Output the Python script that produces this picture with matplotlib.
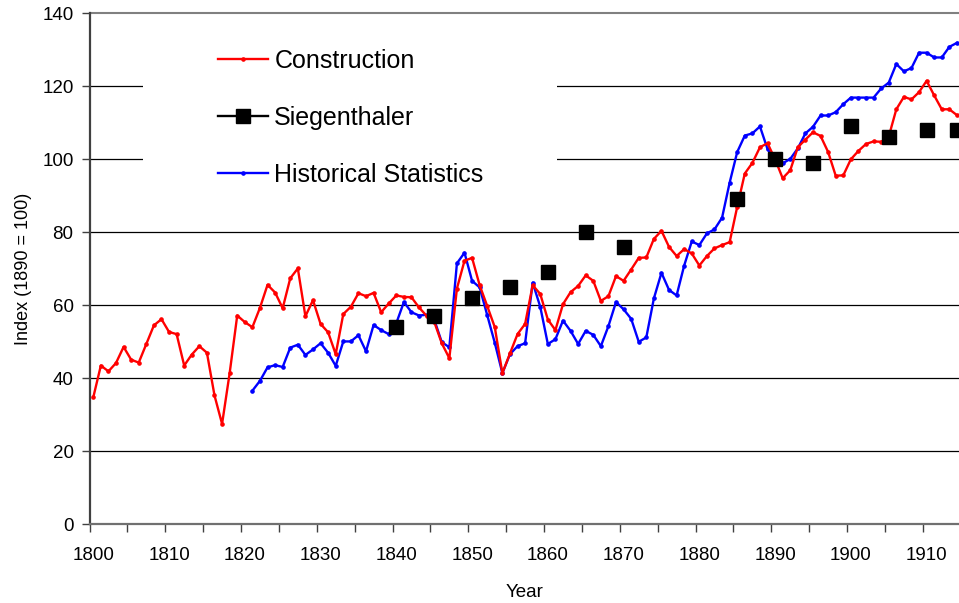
import matplotlib
matplotlib.use("Agg")
import matplotlib.pyplot as plt
from matplotlib.lines import Line2D
from matplotlib.patches import Rectangle
import numpy as np

plt.rcParams['font.family'] = ['Liberation Sans', 'DejaVu Sans']

construction_years = list(range(1800, 1915))
construction = [
    34.8, 43.5, 41.9, 44.2, 48.6, 45.1, 44.3, 49.4, 54.5, 56.2,
    52.7, 52.1, 43.5, 46.5, 48.8, 47.0, 35.3, 27.5, 41.4, 57.2,
    55.4, 54.0, 59.3, 65.6, 63.5, 59.2, 67.4, 70.1, 57.0, 61.4,
    54.9, 52.6, 46.6, 57.6, 59.6, 63.3, 62.5, 63.4, 58.1, 60.5,
    62.7, 62.3, 62.2, 59.4, 57.1, 55.5, 49.6, 45.5, 64.6, 72.2,
    73.0, 65.5, 59.8, 54.0, 41.4, 46.8, 52.1, 54.9, 65.5, 63.1,
    56.1, 53.2, 60.3, 63.6, 65.3, 68.2, 66.7, 61.2, 62.5, 68.0,
    66.7, 69.8, 73.0, 73.1, 78.2, 80.4, 76.0, 73.5, 75.4, 74.2,
    70.9, 73.5, 75.6, 76.5, 77.3, 87.0, 96.1, 99.0, 103.3, 104.4,
    100.0, 94.8, 97.0, 103.3, 105.4, 107.4, 106.4, 102.0, 95.5, 95.6,
    100.0, 102.3, 104.2, 104.9, 104.8, 106.2, 113.7, 117.1, 116.4, 118.4,
    121.5, 117.5, 113.7, 113.7, 112.1,
]

hist_years = list(range(1821, 1915))
hist_stats = [
    36.6, 39.3, 43.0, 43.6, 43.1, 48.4, 49.2, 46.4, 47.9,
    49.6, 47.0, 43.4, 50.1, 50.1, 51.8, 47.4, 54.6, 53.2, 52.1,
    55.1, 60.9, 58.1, 57.2, 57.4, 56.1, 49.9, 48.5, 71.5, 74.4,
    66.7, 64.9, 57.3, 49.7, 41.4, 46.6, 48.8, 49.6, 66.2, 59.6,
    49.4, 50.7, 55.8, 53.0, 49.4, 53.0, 51.9, 48.8, 54.3, 60.9,
    58.9, 56.3, 50.0, 51.2, 61.9, 68.9, 64.2, 62.7, 70.9, 77.5,
    76.5, 79.7, 80.8, 84.0, 93.6, 102.0, 106.5, 107.1, 109.0, 102.8,
    100.0, 98.9, 100.1, 103.0, 107.1, 108.9, 112.0, 112.0, 112.9, 115.1,
    116.9, 116.9, 116.9, 116.9, 119.4, 121.0, 126.1, 124.1, 125.0, 129.2,
    129.2, 127.9, 127.9, 130.8, 131.9,
]

sieg_years = [1840, 1845, 1850, 1855, 1860, 1865, 1870, 1885, 1890, 1895, 1900, 1905, 1910, 1914]
sieg = [54, 57, 62, 65, 69, 80, 76, 89, 100, 99, 109, 106, 108, 108]

label_years = list(range(1800, 1911, 10))
y_ticks = list(range(0, 141, 20))

W, H = 959, 603
fig = plt.figure(figsize=(W / 100, H / 100), dpi=100)
left, right, top, bottom = 89.5, 959, 13.3, 524.3
ax = fig.add_axes([left / W, 1 - bottom / H, (right - left) / W, (bottom - top) / H])

x_lo = 1799.5
x_hi = x_lo + (right - left) / 7.5757
ax.set_xlim(x_lo, x_hi)
ax.set_ylim(0, 140)

# gridlines
for v in y_ticks[1:-1]:
    ax.axhline(v, color='black', lw=0.9, zorder=1)
ax.axhline(140, color='#808080', lw=1.5, zorder=1, clip_on=False)

# legend background
ax.add_patch(Rectangle((143, H - 205), 557 - 143, 175, transform=None,
                       facecolor='white', edgecolor='none', zorder=2))

ax.plot(construction_years, construction, color='#ff0000', lw=1.7,
        marker='o', ms=2.3, zorder=4, clip_on=False)
ax.plot(hist_years, hist_stats, color='#0000ff', lw=1.7,
        marker='o', ms=2.3, zorder=3, clip_on=False)
ax.plot(sieg_years, sieg, linestyle='none', marker='s', ms=10, color='black',
        zorder=5)

# spines
for s in ['top', 'right']:
    ax.spines[s].set_visible(False)
ax.spines['left'].set_color('#404040')
ax.spines['left'].set_linewidth(1.6)
ax.spines['bottom'].set_color('#707070')
ax.spines['bottom'].set_linewidth(1.6)

# ticks
ax.set_yticks(y_ticks)
ax.tick_params(axis='y', direction='out', length=6, width=1, colors='#404040',
               labelcolor='black', labelsize=13.5, pad=5.5)
major_x = [y - 0.5 for y in range(1800, 1915, 5)]
ax.set_xticks(major_x)
ax.set_xticklabels([])
ax.set_xticks(label_years, minor=True)
ax.set_xticklabels([str(y) for y in label_years], minor=True)
ax.tick_params(axis='x', which='major', direction='out', length=6, width=1,
               colors='#404040')
ax.tick_params(axis='x', which='minor', length=0, labelsize=13.5, pad=16)

ax.set_xlabel('Year', fontsize=13.5, labelpad=15)
ax.set_ylabel('Index (1890 = 100)', fontsize=13, labelpad=7)

handles = [
    Line2D([], [], color='#ff0000', lw=1.7, marker='o', ms=2.3),
    Line2D([], [], color='black', lw=1.7, marker='s', ms=10),
    Line2D([], [], color='#0000ff', lw=1.7, marker='o', ms=2.3),
]
labels = ['Construction', 'Siegenthaler', 'Historical Statistics']
leg = fig.legend(handles, labels, loc='center left',
                 bbox_to_anchor=(218 / W, 1 - 118 / H), frameon=False,
                 fontsize=18, handlelength=2.0, handletextpad=0.25,
                 labelspacing=1.32, borderpad=0, borderaxespad=0)
leg.set_zorder(10)

fig.savefig('out.png', dpi=100)
